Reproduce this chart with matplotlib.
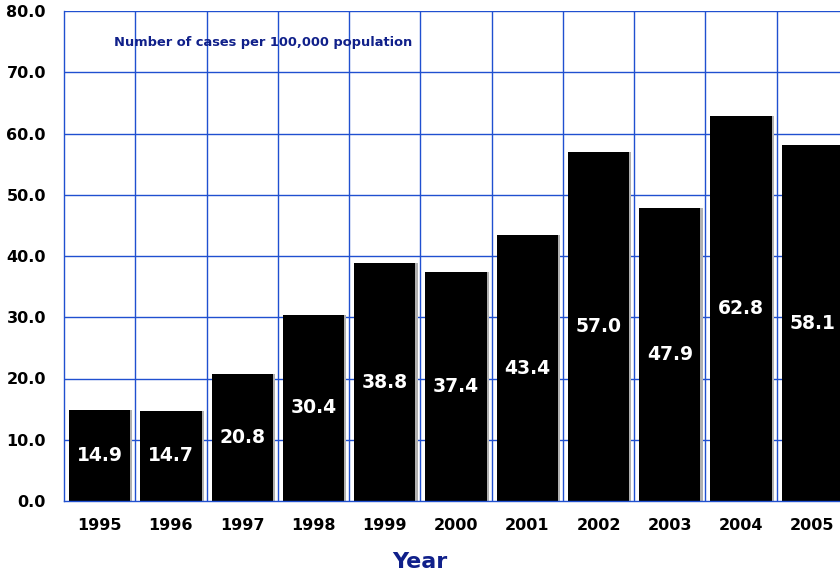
import numpy as np
import matplotlib
matplotlib.use("Agg")
import matplotlib.pyplot as plt

years = ["1995", "1996", "1997", "1998", "1999", "2000",
         "2001", "2002", "2003", "2004", "2005"]
rates = [14.9, 14.7, 20.8, 30.4, 38.8, 37.4, 43.4, 57.0, 47.9, 62.8, 58.1]

grid_blue = "#2050d0"
navy = "#10208a"

fig = plt.figure(figsize=(8.4, 5.75), dpi=100)
ax = fig.add_axes([64 / 840, 74 / 575, 784 / 840, 490 / 575])

x = np.arange(len(years))
# faint shadow on the right side of each bar
ax.bar(x + 0.03, rates, width=0.86, color="#b0b0b0", zorder=2)
ax.bar(x, rates, width=0.86, color="black", zorder=3)

for xi, v in zip(x, rates):
    ax.text(xi, v / 2, f"{v:.1f}", color="white", fontsize=13.5,
            fontweight="bold", ha="center", va="center", zorder=4)

ax.set_xlim(-0.5, len(years) - 0.5)
ax.set_ylim(0, 80)
ax.set_yticks(np.arange(0, 81, 10))
ax.set_yticklabels([f"{t:.1f}" for t in np.arange(0, 81, 10)],
                   fontsize=11.5, fontweight="bold")
ax.set_xticks(x)
ax.set_xticklabels(years, fontsize=11.5, fontweight="bold")
ax.tick_params(axis="both", length=0)
ax.tick_params(axis="y", pad=13)
ax.tick_params(axis="x", pad=12)

# grid: horizontal at each 10, vertical between categories
for y in np.arange(10, 81, 10):
    ax.axhline(y, color=grid_blue, lw=1, zorder=1)
for b in x[:-1] + 0.5:
    ax.axvline(b, color=grid_blue, lw=1, zorder=1)

for side in ["top", "right"]:
    ax.spines[side].set_visible(False)
for side in ["left", "bottom"]:
    ax.spines[side].set_color(grid_blue)
    ax.spines[side].set_linewidth(1)
    ax.spines[side].set_zorder(5)

fig.text(0.5, 13 / 575, "Year", fontsize=16, fontweight="bold", color=navy,
         ha="center", va="center")

ax.text(0.2, 74.9, "Number of cases per 100,000 population", fontsize=9.4,
        fontweight="bold", color=navy, ha="left", va="center", zorder=4)

fig.savefig("out.png", dpi=100)
